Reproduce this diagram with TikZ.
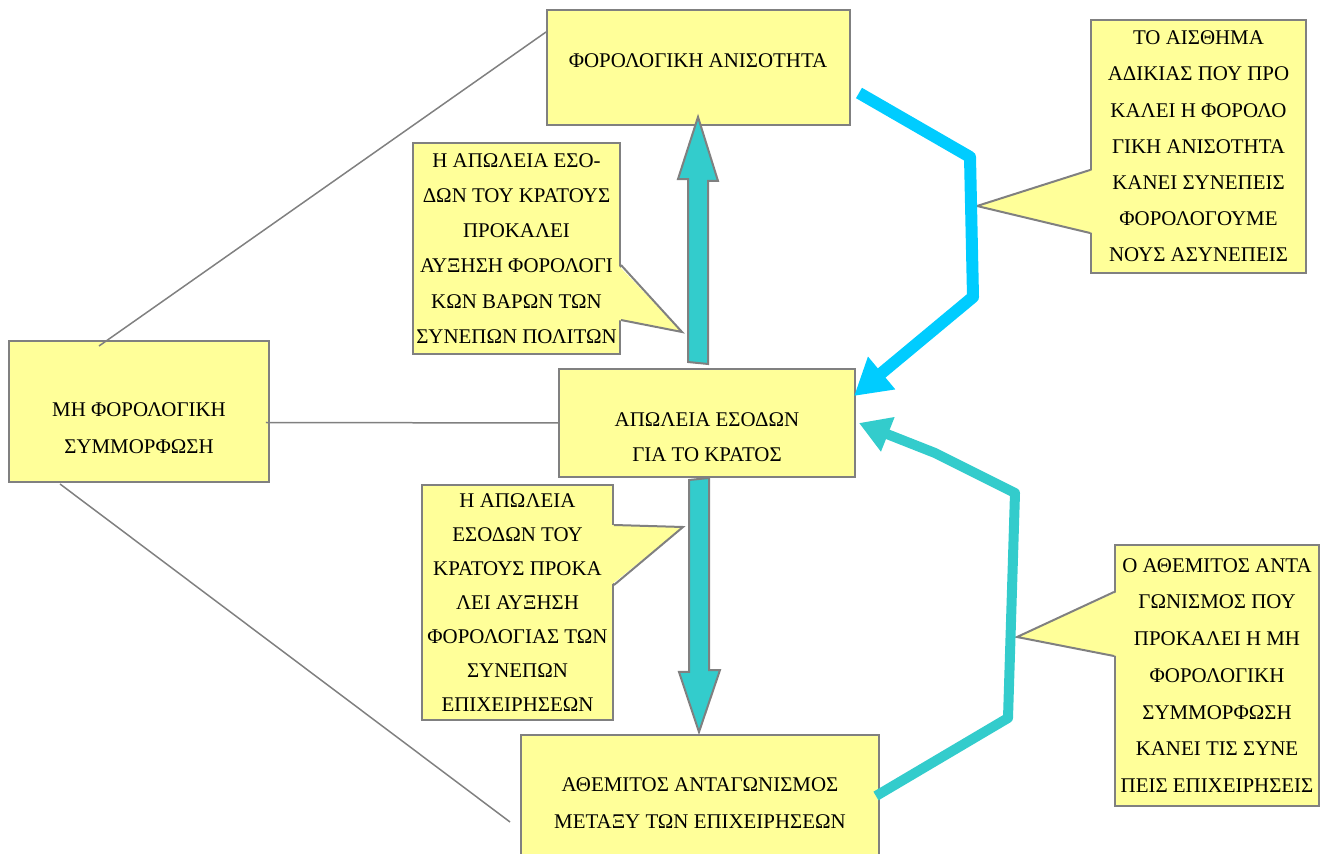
\documentclass[tikz,border=0pt]{standalone}
\usepackage{fontspec}
\setmainfont{Liberation Serif}
\usetikzlibrary{arrows.meta, calc, positioning}
\definecolor{boxfill}{HTML}{FFFF99}
\definecolor{boxline}{HTML}{808080}
\definecolor{arrowteal}{HTML}{33CCCC}
\definecolor{arrowcyan}{HTML}{00CCFF}
\tikzstyle{box} = [rectangle, draw=boxline, line width=0.04cm, fill=boxfill]
\tikzstyle{note} = [box, align=center, inner sep=0pt, font=\fontsize{11.9}{20}\selectfont]
\tikzstyle{boxtext} = [align=center, inner sep=0pt, font=\fontsize{11.9}{21}\selectfont]
\tikzstyle{link} = [draw=boxline, line width=0.03cm]
\tikzstyle{tail} = [draw=boxline, line width=0.04cm, line join=miter]
\tikzstyle{bigarrow} = [fill=arrowteal, draw=boxline, line width=0.04cm]
\tikzstyle{bentarrow} = [line width=0.24cm, line join=round]

\begin{document}
\begin{tikzpicture}[x=0.02cm, y=-0.02cm]
	\useasboundingbox (0,0) rectangle (1328,854);
	% main boxes
	\node (Inequality) [box, minimum width=6.06cm, minimum height=2.3cm] at (698.5,67.5) {};
	\node (InequalityText) [boxtext] at (698,61) {ΦΟΡΟΛΟΓΙΚΗ ΑΝΙΣΟΤΗΤΑ};
	\node (RevenueLoss) [box, minimum width=5.92cm, minimum height=2.16cm] at (707,423) {};
	\node (RevenueLossText) [boxtext, font=\fontsize{11.9}{19.8}\selectfont] at (707,437) {ΑΠΩΛΕΙΑ ΕΣΟΔΩΝ\\ΓΙΑ ΤΟ ΚΡΑΤΟΣ};
	\node (NonCompliance) [box, minimum width=5.2cm, minimum height=2.82cm] at (139,411.5) {};
	\node (NonComplianceText) [boxtext] at (139,428) {ΜΗ ΦΟΡΟΛΟΓΙΚΗ\\ΣΥΜΜΟΡΦΩΣΗ};
	\node (Competition) [box, minimum width=7.16cm, minimum height=2.76cm] at (700,804) {};
	\node (CompetitionText) [boxtext, font=\fontsize{11.9}{21.5}\selectfont] at (700,803) {ΑΘΕΜΙΤΟΣ ΑΝΤΑΓΩΝΙΣΜΟΣ\\ΜΕΤΑΞΥ ΤΩΝ ΕΠΙΧΕΙΡΗΣΕΩΝ};
	% callouts
	\node (TaxBurdenNote) [note, minimum width=4.14cm, minimum height=4.22cm] at (516.5,248.5) {Η ΑΠΩΛΕΙΑ ΕΣΟ-\\ΔΩΝ ΤΟΥ ΚΡΑΤΟΥΣ\\ΠΡΟΚΑΛΕΙ\\ΑΥΞΗΣΗ ΦΟΡΟΛΟΓΙ\\ΚΩΝ ΒΑΡΩΝ ΤΩΝ\\ΣΥΝΕΠΩΝ ΠΟΛΙΤΩΝ};
	\node (BusinessTaxNote) [note, minimum width=3.82cm, minimum height=4.7cm, font=\fontsize{11.9}{19.4}\selectfont] at (517.5,602.5) {Η ΑΠΩΛΕΙΑ\\ΕΣΟΔΩΝ ΤΟΥ\\ΚΡΑΤΟΥΣ ΠΡΟΚΑ\\ΛΕΙ ΑΥΞΗΣΗ\\ΦΟΡΟΛΟΓΙΑΣ ΤΩΝ\\ΣΥΝΕΠΩΝ\\ΕΠΙΧΕΙΡΗΣΕΩΝ};
	\node (InjusticeNote) [note, minimum width=4.3cm, minimum height=5.06cm, font=\fontsize{11.9}{20.6}\selectfont] at (1198.5,146.5) {ΤΟ ΑΙΣΘΗΜΑ\\ΑΔΙΚΙΑΣ ΠΟΥ ΠΡΟ\\ΚΑΛΕΙ Η ΦΟΡΟΛΟ\\ΓΙΚΗ ΑΝΙΣΟΤΗΤΑ\\ΚΑΝΕΙ ΣΥΝΕΠΕΙΣ\\ΦΟΡΟΛΟΓΟΥΜΕ\\ΝΟΥΣ ΑΣΥΝΕΠΕΙΣ};
	\node (CompetitionNote) [note, minimum width=4.08cm, minimum height=5.22cm, font=\fontsize{11.9}{20.9}\selectfont] at (1217,675.5) {Ο ΑΘΕΜΙΤΟΣ ΑΝΤΑ\\ΓΩΝΙΣΜΟΣ ΠΟΥ\\ΠΡΟΚΑΛΕΙ Η ΜΗ\\ΦΟΡΟΛΟΓΙΚΗ\\ΣΥΜΜΟΡΦΩΣΗ\\ΚΑΝΕΙ ΤΙΣ ΣΥΝΕ\\ΠΕΙΣ ΕΠΙΧΕΙΡΗΣΕΙΣ};
	% callout tails
	\coordinate (TaxBurdenTip) at (682,332);
	\coordinate (BusinessTaxTip) at (683,527);
	\coordinate (InjusticeTip) at (977,206);
	\coordinate (CompetitionTip) at (1017,637);
	\fill [boxfill] ($(TaxBurdenNote.east |- 0,265)+(-3,0)$) -- (TaxBurdenTip) -- ($(TaxBurdenNote.east |- 0,320)+(-3,0)$) -- cycle;
	\draw [tail] (TaxBurdenNote.east |- 0,265) -- (TaxBurdenTip) -- (TaxBurdenNote.east |- 0,320);
	\fill [boxfill] ($(BusinessTaxNote.east |- 0,525)+(-3,0)$) -- (BusinessTaxTip) -- ($(BusinessTaxNote.east |- 0,585)+(-3,0)$) -- cycle;
	\draw [tail] (BusinessTaxNote.east |- 0,525) -- (BusinessTaxTip) -- (BusinessTaxNote.east |- 0,585);
	\fill [boxfill] ($(InjusticeNote.west |- 0,170)+(3,0)$) -- (InjusticeTip) -- ($(InjusticeNote.west |- 0,233)+(3,0)$) -- cycle;
	\draw [tail] (InjusticeNote.west |- 0,170) -- (InjusticeTip) -- (InjusticeNote.west |- 0,233);
	\fill [boxfill] ($(CompetitionNote.west |- 0,592)+(3,0)$) -- (CompetitionTip) -- ($(CompetitionNote.west |- 0,656)+(3,0)$) -- cycle;
	\draw [tail] (CompetitionNote.west |- 0,592) -- (CompetitionTip) -- (CompetitionNote.west |- 0,656);
	% thin links
	\draw [link] ($(NonCompliance.north)+(-40,6)$) -- ($(Inequality.north west)+(0,23)$);
	\draw [link] ($(NonCompliance.east)+(-4,11)$) -- (RevenueLoss.west);
	\draw [link] ($(NonCompliance.south)+(-79,1)$) -- ($(Competition.west)+(-10,18)$);
	% block arrows
	\draw [bigarrow] ($(RevenueLoss.north)+(-19,-6)$) -- ++(0,-183) -- ++(-10,0) -- ($(Inequality.south)+(-0.5,-9)$) -- ++(20,64) -- ++(-10,0) -- ++(0,183) -- cycle;
	\draw [bigarrow] ($(RevenueLoss.south)+(-18,2)$) -- ++(0,192) -- ++(-10,0) -- ($(Competition.north)+(-1,-2)$) -- ++(21,-62) -- ++(-11,0) -- ++(0,-192) -- cycle;
	% bent arrows
	\draw [bentarrow, arrowcyan, -{Triangle[length=0.72cm, width=0.8cm]}] ($(Inequality.south east)+(8,-33)$) -- (970,157) -- (973,297) -- ($(RevenueLoss.north east)+(-2,28)$);
	\draw [bentarrow, arrowteal, line width=0.2cm, -{Triangle[length=0.62cm, width=0.7cm]}] ($(Competition.north east)+(-4,62)$) -- (1008,718) -- (1015,493) -- (935,453) -- ($(RevenueLoss.east)+(3,0)$);
\end{tikzpicture}
\end{document}
